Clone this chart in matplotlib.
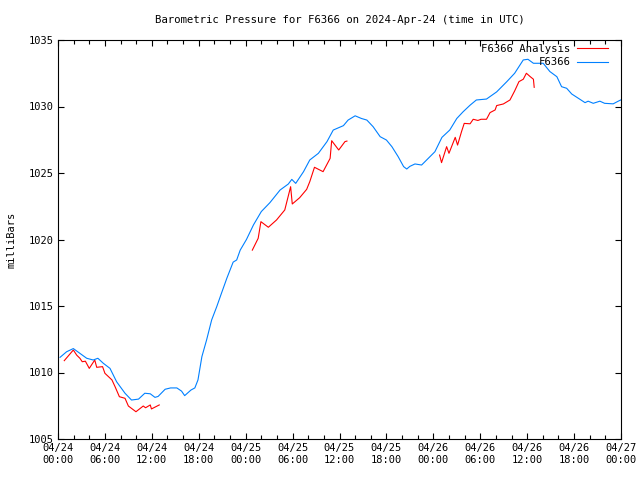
import matplotlib
matplotlib.use("Agg")
import matplotlib.pyplot as plt
from matplotlib.ticker import FixedLocator, MultipleLocator

# hours since 2024-04-24 00:00 UTC, pressure in millibars
obs_hours = [0.26, 1.1, 1.96, 2.8, 3.67, 4.5, 5.1, 5.8, 6.65, 7.5, 8.57, 9.4, 10.3, 11.1,
             11.8, 12.4, 12.8, 13.7, 14.4, 15.2, 15.8, 16.2, 17.0, 17.5, 17.9, 18.4, 19.0,
             19.65, 20.3, 20.9, 21.6, 22.4, 22.85, 23.3, 24.1, 25.0, 26.0, 27.1, 28.4,
             29.45, 29.9, 30.4, 31.4, 32.2, 33.3, 34.4, 35.2, 36.5, 37.1, 38.0, 38.8,
             39.5, 40.3, 41.2, 42.0, 42.7, 43.5, 44.2, 44.6, 45.0, 45.65, 46.5, 47.35,
             48.2, 49.1, 50.1, 51.0, 51.8, 52.7, 53.5, 54.8, 56.1, 57.4, 58.4, 59.5,
             60.1, 60.8, 62.05, 62.9, 63.8, 64.4, 65.05, 65.7, 66.75, 67.4, 67.8, 68.45,
             69.3, 69.9, 71.0, 71.65, 72.0]
obs_values = [1011.14, 1011.56, 1011.8, 1011.44, 1011.07, 1010.94, 1011.07, 1010.69,
              1010.31, 1009.3, 1008.44, 1007.93, 1008.0, 1008.44, 1008.4, 1008.13, 1008.2,
              1008.74, 1008.84, 1008.84, 1008.6, 1008.26, 1008.68, 1008.84, 1009.44,
              1011.19, 1012.44, 1013.95, 1014.95, 1015.95, 1017.1, 1018.3, 1018.46,
              1019.2, 1020.0, 1021.1, 1022.1, 1022.77, 1023.72, 1024.17, 1024.52, 1024.22,
              1025.1, 1025.98, 1026.48, 1027.36, 1028.23, 1028.56, 1028.98, 1029.3,
              1029.1, 1028.98, 1028.48, 1027.73, 1027.48, 1026.98, 1026.23, 1025.48,
              1025.3, 1025.5, 1025.68, 1025.6, 1026.1, 1026.6, 1027.68, 1028.23, 1029.1,
              1029.6, 1030.1, 1030.49, 1030.56, 1031.1, 1031.87, 1032.5, 1033.5, 1033.55,
              1033.25, 1033.25, 1032.63, 1032.24, 1031.49, 1031.37, 1030.94, 1030.54,
              1030.29, 1030.4, 1030.24, 1030.4, 1030.24, 1030.2, 1030.4, 1030.5]

# analysis series, three separate runs (None breaks the line)
ana_hours = [0.8, 1.96, 2.4, 2.8, 3.1, 3.5, 4.0, 4.7, 4.95, 5.7, 6.0, 6.9, 7.3, 7.85, 8.57,
             9.0, 9.97, 10.9, 11.2, 11.8, 11.95, 12.95,
             None,
             24.85, 25.6, 25.95, 26.9, 27.95, 29.0, 29.75, 29.96, 30.9, 31.8, 32.2, 32.8,
             33.9, 34.8, 35.0, 35.9, 36.7, 36.95,
             None,
             48.8, 49.05, 49.7, 50.0, 50.8, 51.1, 51.6, 51.95, 52.7, 53.1, 53.7, 54.1,
             54.8, 55.25, 55.9, 56.1, 56.95, 57.8, 58.4, 58.95, 59.5, 59.9, 60.4, 60.8,
             60.9]
ana_values = [1010.89, 1011.69, 1011.3, 1011.07, 1010.81, 1010.85, 1010.31, 1010.94,
              1010.39, 1010.44, 1009.94, 1009.44, 1008.93, 1008.18, 1008.06, 1007.48,
              1007.05, 1007.48, 1007.35, 1007.56, 1007.26, 1007.56,
              None,
              1019.2, 1020.09, 1021.34, 1020.92, 1021.47, 1022.22, 1023.97, 1022.67,
              1023.14, 1023.77, 1024.35, 1025.43, 1025.1, 1026.1, 1027.43, 1026.73,
              1027.36, 1027.4,
              None,
              1026.35, 1025.78, 1026.98, 1026.48, 1027.68, 1027.1, 1028.1, 1028.73,
              1028.7, 1029.04, 1028.95, 1029.04, 1029.04, 1029.54, 1029.74, 1030.07,
              1030.19, 1030.49, 1031.17, 1031.87, 1032.05, 1032.5, 1032.24, 1032.05,
              1031.44]

tick_hours = [0, 6, 12, 18, 24, 30, 36, 42, 48, 54, 60, 66, 72]
tick_labels = ["04/24\n00:00", "04/24\n06:00", "04/24\n12:00", "04/24\n18:00",
               "04/25\n00:00", "04/25\n06:00", "04/25\n12:00", "04/25\n18:00",
               "04/26\n00:00", "04/26\n06:00", "04/26\n12:00", "04/26\n18:00",
               "04/27\n00:00"]

ana_x = [float("nan") if h is None else h for h in ana_hours]
ana_y = [float("nan") if v is None else v for v in ana_values]

plt.rcParams["font.family"] = "DejaVu Sans Mono"
plt.rcParams["font.size"] = 7.5

fig = plt.figure(figsize=(6.4, 4.8), dpi=100)
ax = fig.add_axes([58 / 640, 41 / 480, 563 / 640, 399 / 480])

ax.plot(ana_x, ana_y, color="#ff0000", lw=0.8, label="F6366 Analysis")
ax.plot(obs_hours, obs_values, color="#0080ff", lw=0.8, label="F6366")

ax.set_xlim(0, 72)
ax.set_ylim(1005, 1035)
ax.xaxis.set_major_locator(FixedLocator(tick_hours))
ax.set_xticklabels(tick_labels)
ax.xaxis.set_minor_locator(MultipleLocator(2))
ax.yaxis.set_major_locator(MultipleLocator(5))
ax.tick_params(which="both", direction="in", top=True, right=True, width=0.8)
ax.tick_params(which="major", length=4, pad=3)
ax.tick_params(which="minor", length=3)
for s in ax.spines.values():
    s.set_linewidth(0.8)

ax.set_ylabel("milliBars", labelpad=9)
ax.set_title("Barometric Pressure for F6366 on 2024-Apr-24 (time in UTC)",
             fontsize=7.7, pad=12)

leg = ax.legend(loc="upper right", bbox_to_anchor=(0.986, 1.003), frameon=False,
                markerfirst=False, handlelength=2.9, borderaxespad=0.1,
                labelspacing=0.3, handletextpad=0.6, fontsize=7.7)
for t in leg.get_texts():
    t.set_ha("right")

fig.savefig("out.png", dpi=100)
